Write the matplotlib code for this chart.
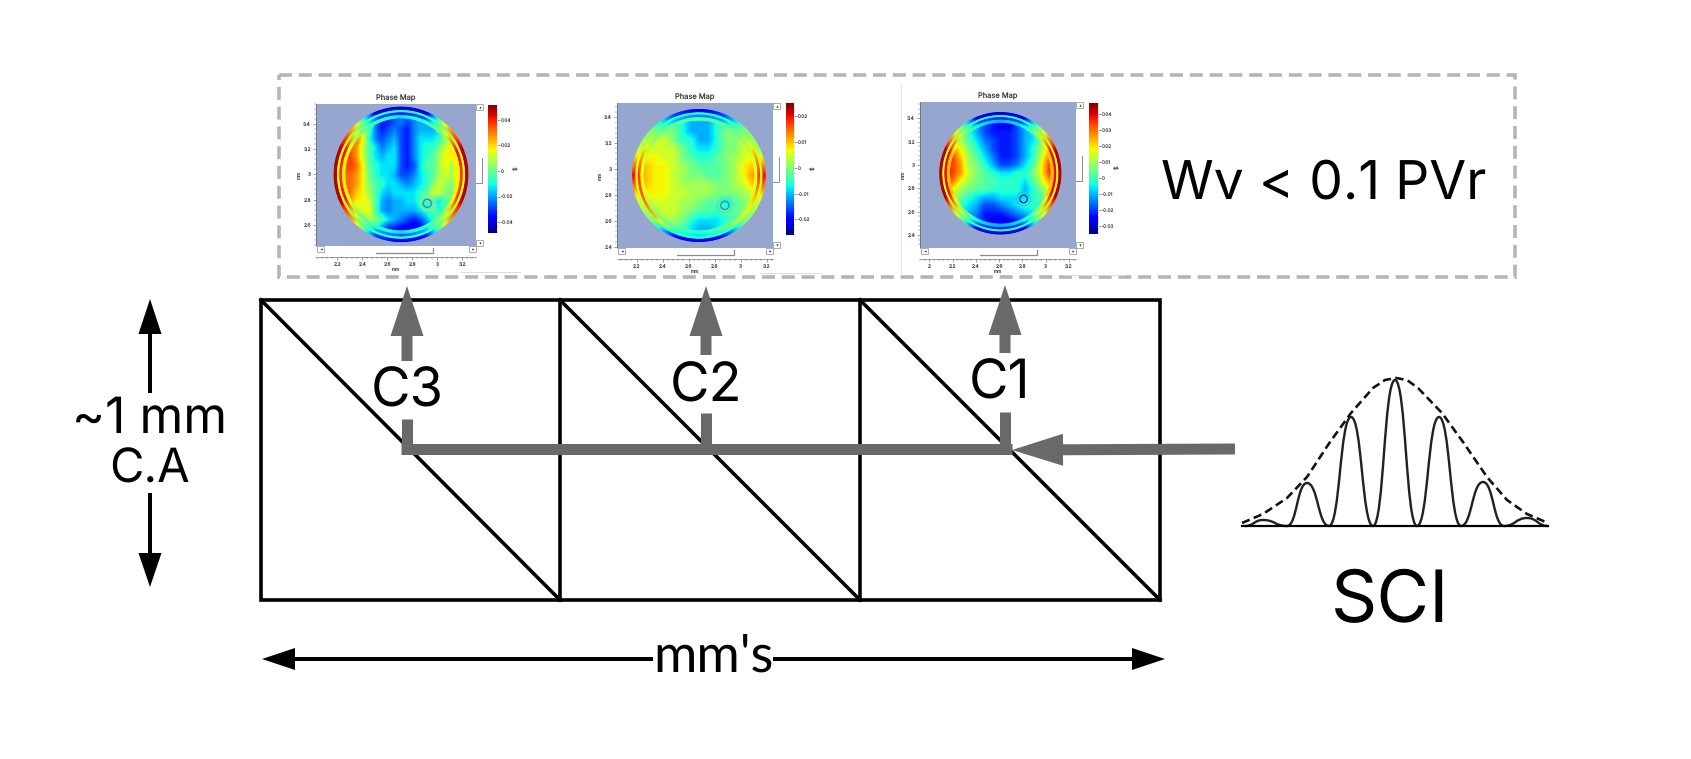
import matplotlib

matplotlib.use("Agg")

import matplotlib.pyplot as plt
import numpy as np
from matplotlib.patches import Circle, FancyArrow, Rectangle, PathPatch
from matplotlib.path import Path
from matplotlib.ticker import AutoMinorLocator

plt.rcParams["font.family"] = ["Inter", "Lato", "DejaVu Sans"]
plt.rcParams["text.hinting"] = "no_hinting"

WIDTH, HEIGHT = 1691, 759
GREY = "#696969"
BOX_GREY = "#b5b5b5"
MAP_BG = "#97a6cf"

# prism array, in image pixels
cell_edges = [261, 560, 860, 1160]
cell_top, cell_bottom = 300, 600
channel_labels = ["C3", "C2", "C1"]
channel_x = [407, 706, 1005]
channel_label_x = [407, 706, 1000]
channel_label_y = [406, 401, 398]
channel_tip_y = [286, 286, 285]
channel_shaft_end = [361, 355, 353]
channel_stub_top = [419, 413, 412]

# fringe packet, anchors are peaks and troughs (height above baseline)
fringe_x = [1245, 1263, 1287, 1307, 1329, 1351, 1373, 1395, 1417, 1439, 1461, 1483, 1504, 1527, 1548]
fringe_amp = [0, 6, 0, 43, 0, 109, 0, 146, 0, 109, 0, 44, 0, 8, 0]
envelope_x = [1242, 1263, 1287, 1307, 1330, 1351, 1373, 1385, 1396, 1407, 1418, 1442, 1463, 1487, 1507, 1527, 1548]
envelope_amp = [3, 12, 28, 49, 84, 113, 138, 146, 148, 146, 138, 113, 84, 49, 26, 12, 3]
fringe_base = 526

# phase map frames in image pixels
map_left = [316, 617, 920]
map_right = [476, 773, 1076]
map_top = [104, 103, 102]
map_bottom = [246, 248, 248]
cbar_left = [488, 786, 1089]
cbar_right = [497, 794, 1098]
cbar_top = [105, 103, 103]
cbar_bottom = [233, 235, 234]

map_xlim = [(2.03, 3.31), (2.05, 3.25), (1.92, 3.26)]
map_ylim = [(2.43, 3.56), (2.39, 3.51), (2.29, 3.54)]
map_centers = [(2.71, 3.0), (2.68, 2.95), (2.61, 2.93)]
map_radius = [0.535, 0.51, 0.52]
defect_centers = [(2.92, 2.77), (2.88, 2.72), (2.81, 2.71)]
defect_inner = ["#2f8fc0", "#2f8fc8", "#0a2fa8"]
defect_outer = ["#e0d050", "#7fd0a0", "#35b8d8"]
map_xticks = [
    [2.2, 2.4, 2.6, 2.8, 3, 3.2],
    [2.2, 2.4, 2.6, 2.8, 3, 3.2],
    [2, 2.2, 2.4, 2.6, 2.8, 3, 3.2],
]
map_yticks = [
    [2.6, 2.8, 3, 3.2, 3.4],
    [2.4, 2.6, 2.8, 3, 3.2, 3.4],
    [2.4, 2.6, 2.8, 3, 3.2, 3.4],
]
cbar_limits = [(-0.0486, 0.0517), (-0.026, 0.025), (-0.0348, 0.0466)]
cbar_ticks = [
    [-0.04, -0.02, 0, 0.02, 0.04],
    [-0.02, -0.01, 0, 0.01, 0.02],
    [-0.03, -0.02, -0.01, 0, 0.01, 0.02, 0.03, 0.04],
]

# surface, as position on the jet scale x 10, top row first
map_c3 = [
    [5, 5, 5, 5, 5, 5, 2, 1, 1, 1, 1, 1, 1, 1, 1, 2, 5, 5, 5, 5, 5],
    [5, 5, 5, 5, 5, 7, 2.5, 1.5, 1.5, 2, 2.5, 2, 2.5, 3, 3, 3, 4, 7, 5, 5, 5],
    [5, 5, 5, 7, 6, 4.5, 2.5, 1.5, 2, 2.5, 2, 1.5, 2.5, 3, 3, 3, 3.5, 5, 7, 5, 5],
    [5, 5, 8, 8, 6.5, 4, 2.5, 2, 2.5, 3, 2, 1.5, 2.5, 3.5, 3.5, 3.5, 4, 5, 7, 8, 5],
    [5, 8, 8, 7.5, 6, 4.5, 3.5, 2.5, 3, 3.5, 2, 1.5, 2.5, 3.5, 4, 4, 5, 6, 7, 8, 9],
    [8, 8, 8.5, 7.5, 6, 4.5, 3.5, 3, 3.5, 3.5, 2, 1.5, 2.5, 3.5, 4, 4.5, 5.5, 6.5, 6.5, 7.5, 9],
    [9, 8, 8.5, 8, 6.5, 4.5, 4, 3.5, 3.5, 3.5, 2, 1.5, 2, 3.5, 4.5, 4.5, 5.5, 6.5, 5.5, 7, 9],
    [9, 8, 8, 7.5, 6.5, 5, 4, 3.5, 3.5, 3, 2, 2, 2.5, 3.5, 4, 4.5, 5.5, 6, 5.5, 7, 9],
    [9, 8, 8, 7.5, 6.5, 5, 4.5, 4, 3.5, 3.5, 3, 2.5, 3, 3.5, 4, 5, 6, 5.5, 5, 7, 9],
    [9, 8, 8, 7, 6.5, 5.5, 4.5, 3.5, 3, 3.5, 3.5, 3.5, 3.5, 4, 4.5, 6, 6, 5, 5, 6.5, 9],
    [5, 8, 7.5, 6.5, 6.5, 6, 4.5, 3, 2.5, 3, 3, 3.5, 3.5, 4, 4.5, 4, 3.5, 4.5, 5, 6, 8],
    [5, 5, 7, 6, 6, 6.5, 4.5, 3, 2.5, 3, 3, 3, 3, 3.5, 4, 4.5, 4, 4.5, 4.5, 5, 5],
    [5, 5, 5, 5.5, 5, 5.5, 5, 4.5, 3.5, 3, 2.5, 2, 1.5, 2, 3, 4, 4.5, 4, 4, 5, 5],
    [5, 5, 5, 5, 5, 5, 4, 2.5, 1.5, 1.5, 1, 1, 1, 1, 2, 3, 4, 3, 5, 5, 5],
    [5, 5, 5, 5, 5, 5, 2, 1.5, 1, 1, 1, 1, 1, 1.5, 2, 3, 5, 5, 5, 5, 5],
]
map_c2 = [
    [5, 5, 5, 5, 5, 5, 5, 5, 5, 5, 5, 5, 5, 5, 5],
    [5, 5, 5, 5, 4, 4, 3, 3, 3, 4, 4, 5, 5, 5, 5],
    [5, 5, 5, 5, 5, 4, 3, 3, 3, 4, 5, 5, 5, 5, 5],
    [5, 5, 6, 6, 5, 4, 4, 3, 3, 4, 5, 5, 6, 5, 5],
    [5, 6, 6, 6, 6, 5, 4, 3.5, 3.5, 4, 5, 5, 6, 6, 6],
    [6, 6.5, 6.5, 6, 6, 5, 4.5, 4, 4, 4.5, 5, 5.5, 6, 6.5, 7],
    [7.5, 7, 6.5, 6.5, 6, 5.5, 5, 4.5, 4.5, 4.5, 5, 5.5, 6.5, 7, 8],
    [8, 7, 6.5, 6.5, 6, 5.5, 5, 5, 4.5, 4.5, 5, 5.5, 6.5, 7.5, 8.5],
    [7, 7, 6.5, 6.5, 6, 5.5, 5.5, 5.5, 5.5, 5, 5, 5.5, 6, 7, 7],
    [6, 6.5, 6.5, 6.5, 6, 6, 5.5, 5.5, 5.5, 5, 5, 5, 5.5, 6, 6],
    [6, 6, 6, 6, 6, 5.5, 5.5, 5, 4.5, 4.5, 3.5, 4.5, 5, 5.5, 6],
    [5.5, 5.5, 5.5, 6, 6, 5.5, 5, 4.5, 4.5, 4, 4.5, 4.5, 5, 5.5, 5.5],
    [5, 5, 5.5, 5.5, 5.5, 5, 4, 3.5, 3.5, 3.5, 4, 4.5, 5, 5, 5],
    [5, 5, 5, 5, 5, 4.5, 3.5, 3, 3, 3.5, 4, 4.5, 5, 5, 5],
    [5, 5, 5, 5, 5, 5, 5, 5, 5, 5, 5, 5, 5, 5, 5],
]
map_c1 = [
    [4, 4, 4, 4, 4, 4, 4, 4, 4, 4, 4, 4, 4, 4, 4],
    [4, 4, 4, 4, 3, 2, 1.5, 1, 1, 2, 3, 4, 5, 5, 5],
    [5, 5, 5, 4, 3, 2, 1.5, 1.5, 1.5, 2, 3, 3.5, 4.5, 5, 5],
    [6, 6, 5.5, 4.5, 3.5, 2.5, 2, 1.5, 1.5, 2, 3, 3.5, 4.5, 6, 6],
    [8, 7.5, 6.5, 5, 4, 3, 2, 1.5, 1.5, 2, 3, 4, 5.5, 7, 8],
    [8.5, 8.5, 7, 5.5, 4.5, 3.5, 2.5, 1.5, 1.5, 2, 3, 4, 6, 8, 8.5],
    [9, 8.5, 7.5, 5.5, 5, 4, 3, 2, 2, 2.5, 3.5, 4.5, 6.5, 8.5, 9],
    [9, 8.5, 7.5, 6, 5, 4.5, 4, 3.5, 3.5, 4, 4, 5, 6.5, 8.5, 9],
    [8.5, 8, 6.5, 5.5, 5, 4.5, 4.5, 4, 4, 4, 3.5, 4.5, 6, 7.5, 8],
    [7.5, 6.5, 5.5, 5, 4.5, 4.5, 4, 4, 4, 4, 3, 4, 5, 6.5, 7],
    [5.5, 5.5, 5, 4, 3.5, 3, 3, 3.5, 3.5, 3.5, 3.5, 4, 4.5, 5, 5],
    [5, 4.5, 4, 3.5, 3, 2, 2, 2.5, 3, 3.5, 4, 4, 4, 4, 4],
    [4, 4, 3.5, 3, 2.5, 1.5, 1.5, 1.5, 2, 2.5, 3, 3.5, 3.5, 4, 4],
    [4, 4, 4, 3, 2, 1.5, 1, 1, 1, 1.5, 2, 3, 4, 4, 4],
    [4, 4, 4, 4, 4, 4, 4, 4, 4, 4, 4, 4, 4, 4, 4],
]

# edge rings, jet position x 10 at 16 bearings going counter-clockwise from east
rim_c3 = [
    [9.5, 9.5, 7, 1, 0.8, 1, 7, 9.5, 9.5, 9.5, 7, 2, 1, 1.5, 7, 9.5],
    [6, 6, 5, 4, 4, 4, 5, 6, 6, 6, 5, 4, 4, 4, 5, 6],
    [8.5, 9, 6, 2, 1.5, 2, 6, 9, 8.5, 9, 6, 3, 2, 3, 6, 8.5],
    [6.5, 6.5, 5, 4, 3.5, 4, 5, 6.5, 6.5, 6.5, 5, 4, 3.5, 4, 5, 6.5],
]
rim_c2 = [
    [9, 5.5, 5, 2, 0.8, 2, 5, 6, 9, 6, 5, 1.5, 0.8, 1.5, 5, 6],
    [6, 6, 5, 4, 4, 4, 5, 6, 6.5, 6, 5, 4, 4, 4, 5, 6],
    [8.5, 7, 5, 3, 2.5, 3, 5, 7, 8.5, 8, 7, 4, 3.5, 4, 6, 7],
    [6.5, 6, 5, 4.5, 4.5, 4.5, 5, 6, 6.5, 6, 5, 4.5, 4, 4.5, 5, 6],
]
rim_c1 = [
    [9.5, 9.5, 6, 1, 0.8, 1, 6, 9.5, 9.5, 9.5, 6, 1, 0.8, 1, 6, 9.5],
    [6, 6, 5, 4, 4, 4, 5, 6, 6, 6, 5, 4, 4, 4, 5, 6],
    [9, 9, 6, 2, 1.5, 2, 6, 9, 9, 9, 6, 2, 1.5, 2, 6, 9],
    [7, 7, 5, 3.5, 3, 3.5, 5, 7, 7, 7, 5, 3.5, 3, 3.5, 5, 7],
]
rim_bands = [(1.0, 0.95), (0.95, 0.915), (0.915, 0.875), (0.875, 0.84)]

map_surfaces = [map_c3, map_c2, map_c1]
map_rims = [rim_c3, rim_c2, rim_c1]


def px(value):
    # pixels to points at dpi 100
    return value * 0.72


def arrow(ax, x0, y0, x1, y1, width, head_width, head_length, color, zorder=3):
    ax.add_patch(
        FancyArrow(
            x0, y0, x1 - x0, y1 - y0,
            width=width,
            head_width=head_width,
            head_length=head_length,
            length_includes_head=True,
            color=color,
            linewidth=0,
            zorder=zorder,
        )
    )


def add_px_axes(fig, left, right, top, bottom):
    return fig.add_axes(
        [
            left / WIDTH,
            1 - bottom / HEIGHT,
            (right - left) / WIDTH,
            (bottom - top) / HEIGHT,
        ]
    )


def draw_phase_map(fig, base, i):
    left, right, top, bottom = map_left[i], map_right[i], map_top[i], map_bottom[i]
    ax = add_px_axes(fig, left, right, top, bottom)
    ax.set_facecolor(MAP_BG)
    cx, cy = map_centers[i]
    r = map_radius[i]

    surface = np.array(map_surfaces[i]) / 10
    img = ax.imshow(
        surface,
        extent=[cx - r, cx + r, cy - r, cy + r],
        origin="upper",
        cmap="jet",
        vmin=0,
        vmax=1,
        interpolation="bilinear",
        aspect="auto",
    )
    img.set_clip_path(Circle((cx, cy), r, transform=ax.transData))

    # rings: colours read at the bearings, only the circle outline is fine-grained
    bearings = np.arange(0, 382.5, 22.5)
    theta = np.arange(0, 362, 2)
    for band, values in zip(rim_bands, map_rims[i]):
        c = np.interp(theta, bearings, values + values[:1]) / 10
        radii = np.array(band) * r
        ax.pcolormesh(
            cx + np.outer(radii, np.cos(np.radians(theta))),
            cy + np.outer(radii, np.sin(np.radians(theta))),
            np.vstack([c, c]),
            shading="gouraud",
            cmap="jet",
            vmin=0,
            vmax=1,
        )
    ax.set_xlim(*map_xlim[i])
    ax.set_ylim(*map_ylim[i])
    ax.set_aspect("auto")

    dx, dy = defect_centers[i]
    ax.add_patch(Circle((dx, dy), 0.032, fill=False, ec=defect_inner[i], lw=1.0))
    ax.add_patch(Circle((dx, dy), 0.058, fill=False, ec=defect_outer[i], lw=0.7))

    ax.set_xticks(map_xticks[i])
    ax.set_yticks(map_yticks[i])
    ax.xaxis.set_minor_locator(AutoMinorLocator(5))
    ax.yaxis.set_minor_locator(AutoMinorLocator(5))
    ax.tick_params(which="major", length=2, width=0.4, labelsize=3.6, pad=1.5,
                   colors="#555555")
    ax.tick_params(which="minor", length=1.2, width=0.3, colors="#555555")
    ax.set_xticklabels([f"{t:g}" for t in map_xticks[i]])
    ax.set_yticklabels([f"{t:g}" for t in map_yticks[i]])
    for side in ["top", "right"]:
        ax.spines[side].set_visible(False)
    ax.spines["bottom"].set_position(("outward", 8))
    ax.spines["left"].set_linewidth(0.4)
    ax.spines["bottom"].set_linewidth(0.4)
    ax.spines["left"].set_color("#555555")
    ax.spines["bottom"].set_color("#555555")
    ax.set_xlabel("mm", fontsize=3.4, labelpad=0.5, color="#555555")
    ax.set_ylabel("mm", fontsize=3.4, labelpad=1, color="#555555")
    ax.set_title("Phase Map", fontsize=5.4, pad=2.5, color="#444444")

    cax = add_px_axes(fig, cbar_left[i], cbar_right[i], cbar_top[i], cbar_bottom[i])
    low, high = cbar_limits[i]
    cax.imshow(
        np.linspace(1, 0, 256)[:, None],
        extent=[0, 1, low, high],
        cmap="jet",
        vmin=0,
        vmax=1,
        aspect="auto",
    )
    cax.set_xticks([])
    cax.yaxis.tick_right()
    cax.set_yticks(cbar_ticks[i])
    cax.set_yticklabels([f"{t:g}" for t in cbar_ticks[i]])
    cax.yaxis.set_minor_locator(AutoMinorLocator(5))
    cax.tick_params(which="major", length=2, width=0.4, labelsize=3.4, pad=1,
                    colors="#555555")
    cax.tick_params(which="minor", length=1, width=0.3, colors="#555555")
    for spine in cax.spines.values():
        spine.set_visible(False)
    base.text(cbar_right[i] + 20, (cbar_top[i] + cbar_bottom[i]) / 2 - 1, "\\$",
              fontsize=4, ha="center", va="center", rotation=90, color="#444444")

    # viewer scroll furniture around the plot
    edge = "#8c8c8c"
    for x, y, w, h, mark in [
        (right, top, 7, 6, "^"),
        (right, bottom - 6, 7, 6, "v"),
        (left + 1, bottom, 7, 6, "<"),
        (right - 7, bottom, 7, 6, ">"),
    ]:
        base.add_patch(Rectangle((x, y), w, h, fc="white", ec=edge, lw=0.5))
        base.plot(x + w / 2, y + h / 2, marker=mark, ms=1.6, color="#333333", mew=0)
    base.plot([right + 6, right + 6, right], [top + 54, top + 79, top + 79],
              color=edge, lw=0.7)
    base.plot([left + 60, left + 117, left + 117], [bottom + 7, bottom + 7, bottom + 2],
              color=edge, lw=0.9)


fig = plt.figure(figsize=(WIDTH / 100, HEIGHT / 100), dpi=100, facecolor="white")
ax = fig.add_axes([0, 0, 1, 1])
ax.set_xlim(0, WIDTH)
ax.set_ylim(HEIGHT, 0)
ax.axis("off")

# dashed frame round the maps
ax.add_patch(
    Rectangle((279, 75), 1236, 202, fill=False, ec=BOX_GREY, lw=px(3.6),
              linestyle=(0, (3.6, 1.9)))
)
for x0, x1, y in [(461, 520, 272), (760, 822, 273), (1063, 1125, 275)]:
    ax.plot([x0, x1], [y, y], color="#dddddd", lw=0.7)
ax.plot([901, 901], [85, 275], color="#e6e6e6", lw=0.7)

# prism cells
ax.add_patch(
    Rectangle((cell_edges[0], cell_top), cell_edges[-1] - cell_edges[0],
              cell_bottom - cell_top, fill=False, ec="black", lw=px(3.6), zorder=2)
)
for x in cell_edges[1:-1]:
    ax.plot([x, x], [cell_top, cell_bottom], color="black", lw=px(3.6), zorder=2)
for x0, x1 in zip(cell_edges[:-1], cell_edges[1:]):
    ax.plot([x0, x1], [cell_top, cell_bottom], color="black", lw=px(3.6), zorder=2)

# beam path
ax.plot([channel_x[0] - 6, 1012], [448.5, 448.5], color=GREY, lw=px(11),
        solid_capstyle="butt", zorder=3)
arrow(ax, 1235, 449, 1012, 450, 11, 32, 51, GREY)
for x, tip, shaft_end, stub, label, label_x, label_y in zip(
    channel_x, channel_tip_y, channel_shaft_end, channel_stub_top,
    channel_labels, channel_label_x, channel_label_y,
):
    arrow(ax, x, shaft_end, x, tip, 11, 33, 50, GREY)
    ax.plot([x, x], [454, stub], color=GREY, lw=px(11), solid_capstyle="butt", zorder=3)
    ax.text(label_x, label_y, label, fontsize=39, ha="center", va="baseline", zorder=4)

# size arrows
arrow(ax, 150, 393, 150, 299, 4, 23, 35, "black")
arrow(ax, 150, 493, 150, 587, 4, 23, 34, "black")
ax.text(150, 433, "~1 mm", fontsize=36, ha="center", va="baseline")
ax.text(150, 483, "C.A", fontsize=34, ha="center", va="baseline")
arrow(ax, 653, 659, 262, 659, 4, 22, 33, "black")
arrow(ax, 773, 659, 1165, 659, 4, 22, 33, "black")
ax.text(713, 673, "mm's", fontsize=38, ha="center", va="baseline",
        family=["Lato", "DejaVu Sans"])

ax.text(1324, 198, "Wv < 0.1 PVr", fontsize=38.5, ha="center", va="baseline")
ax.text(1390, 622, "SCI", fontsize=52, ha="center", va="baseline")

# fringe packet
ax.plot([1242, 1548], [fringe_base, fringe_base], color="black", lw=px(2.2))
fringe_y = [fringe_base - a for a in fringe_amp]
verts = [(fringe_x[0], fringe_y[0])]
codes = [Path.MOVETO]
for x0, y0, x1, y1 in zip(fringe_x[:-1], fringe_y[:-1], fringe_x[1:], fringe_y[1:]):
    mid = (x0 + x1) / 2
    verts += [(mid, y0), (mid, y1), (x1, y1)]
    codes += [Path.CURVE4] * 3
ax.add_patch(PathPatch(Path(verts, codes), fill=False, ec="#222222", lw=px(2.4)))
ax.plot(envelope_x, [fringe_base - a for a in envelope_amp], color="#111111",
        lw=px(2.6), linestyle=(0, (3.2, 1.7)))

for i in range(3):
    draw_phase_map(fig, ax, i)

fig.savefig("out.png", dpi=100)
plt.close(fig)
